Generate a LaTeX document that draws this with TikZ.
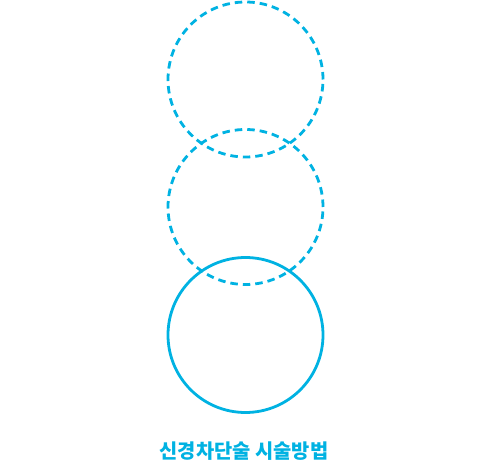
\documentclass[tikz,border=0pt]{standalone}
\usepackage{fontspec}
\usepackage{xcolor}
\usepackage{tikz}
\newfontfamily\kr{Noto Sans CJK KR}
\definecolor{nerveblue}{RGB}{0,178,226}

\begin{document}
\begin{tikzpicture}[x=1pt, y=-1pt,
  ring/.style={draw=nerveblue, line width=2.8pt, circle, minimum size=155pt, inner sep=0pt},
  dashring/.style={ring, dash pattern=on 7.5pt off 5pt},
  every node/.style={font=\kr\bfseries}]
  \useasboundingbox (0,0) rectangle (487,462);
  \node[dashring] (upper) at (245.5,79.5) {};
  \node[dashring] (middle) at (245.5,207) {};
  \node[ring] (lower) at (245.5,335) {};
  \node[text=nerveblue, font=\kr\bfseries\fontsize{19.8pt}{22pt}\selectfont, inner sep=0pt] (title) at (244,451) {신경차단술 시술방법};
\end{tikzpicture}
\end{document}
